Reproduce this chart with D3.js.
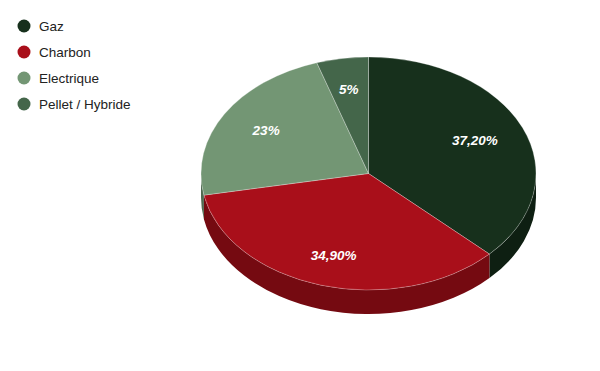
<!DOCTYPE html>
<html>
<head>
<meta charset="utf-8">
<script src="https://d3js.org/d3.v7.min.js"></script>
<style>
    html, body { margin: 0; padding: 0; background: #fff; }
    svg { display: block; font-family: Arial, "Liberation Sans", sans-serif; }
    .legend-label { font-size: 13.5px; fill: #222; }
    .slice-label { font-size: 13.5px; font-weight: bold; font-style: italic; fill: #fff; text-anchor: middle; }
</style>
</head>
<body>
<svg width="600" height="371"></svg>
<script>
    // data
    let categories = ['Gaz', 'Charbon', 'Electrique', 'Pellet / Hybride'];
    let values = [37.2, 34.9, 23, 5];
    let valueLabels = ['37,20%', '34,90%', '23%', '5%'];
    let colours = ['#17301c', '#a90f1a', '#739674', '#44664a'];
    let sideColours = ['#0e1f12', '#750a11', '#506a51', '#2f4733'];

    let svg = d3.select('svg');

    let cx = 368.5, cy = 173.5;
    let rx = 167.5, ry = 116.5;
    let depth = 24;
    let k = ry / rx;

    let pie = d3.pie().sort(null).value(d => d.value);
    let slices = pie(values.map((v, i) => ({ value: v, i: i })));

    let arc = d3.arc().innerRadius(0).outerRadius(rx);

    // pie drawn as a circle then squashed vertically
    let g = svg.append('g')
        .attr('transform', `translate(${cx},${cy}) scale(1,${k})`);

    // visible outer wall: front half only (pi/2 .. 3pi/2)
    function sidePath(d) {
        let a0 = Math.max(d.startAngle, Math.PI / 2);
        let a1 = Math.min(d.endAngle, Math.PI * 3 / 2);
        if (a1 <= a0) return null;
        let dy = depth / k;
        let p = d3.path();
        p.arc(0, 0, rx, a0 - Math.PI / 2, a1 - Math.PI / 2, false);
        p.lineTo(rx * Math.cos(a1 - Math.PI / 2), rx * Math.sin(a1 - Math.PI / 2) + dy);
        p.arc(0, dy, rx, a1 - Math.PI / 2, a0 - Math.PI / 2, true);
        p.closePath();
        return p.toString();
    }

    g.selectAll('path.side')
        .data(slices.filter(d => sidePath(d)))
        .join('path')
        .attr('class', 'side')
        .attr('d', sidePath)
        .attr('fill', d => sideColours[d.data.i]);

    g.selectAll('path.top')
        .data(slices)
        .join('path')
        .attr('class', 'top')
        .attr('d', arc)
        .attr('fill', d => colours[d.data.i])
        .attr('stroke', '#fff')
        .attr('stroke-opacity', 0.35)
        .attr('stroke-width', 0.8)
        .attr('vector-effect', 'non-scaling-stroke');

    // labels, a bit inside the middle of each slice
    let lx = rx * 0.70, ly = ry * 0.73;
    svg.selectAll('text.slice-label')
        .data(slices)
        .join('text')
        .attr('class', 'slice-label')
        .attr('x', d => {
            let m = (d.startAngle + d.endAngle) / 2;
            return cx - 1.5 + lx * Math.sin(m);
        })
        .attr('y', d => {
            let m = (d.startAngle + d.endAngle) / 2;
            return cy - ly * Math.cos(m);
        })
        .attr('dy', '0.35em')
        .text(d => valueLabels[d.data.i]);

    // legend
    let legendY = d3.scalePoint().domain(categories).range([26, 104]);
    let legend = svg.selectAll('g.legend')
        .data(categories)
        .join('g')
        .attr('class', 'legend')
        .attr('transform', d => `translate(0,${legendY(d)})`);

    legend.append('circle')
        .attr('cx', 24)
        .attr('cy', 0)
        .attr('r', 6.5)
        .attr('fill', (d, i) => colours[i]);

    legend.append('text')
        .attr('class', 'legend-label')
        .attr('x', 39)
        .attr('y', 0)
        .attr('dy', '0.36em')
        .text(d => d);
</script>
</body>
</html>
